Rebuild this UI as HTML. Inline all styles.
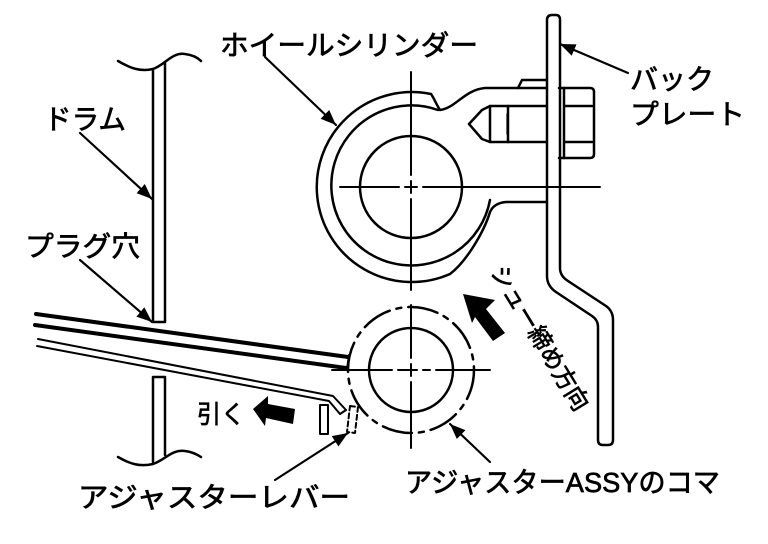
<!DOCTYPE html>
<html><head><meta charset="utf-8"><style>
html,body{margin:0;padding:0;background:#fff;}
svg{display:block;}
text{font-family:"Liberation Sans","Noto Sans CJK JP",sans-serif;fill:#000;stroke:#000;stroke-width:0.7;}
</style></head><body>
<svg width="768" height="544" viewBox="0 0 768 544" xmlns="http://www.w3.org/2000/svg">
<defs>
<marker id="ah" viewBox="0 0 10 10" refX="10" refY="5" markerWidth="7" markerHeight="7" markerUnits="strokeWidth" orient="auto">
<path d="M0,1 L10,5 L0,9 z" fill="#000"/>
</marker>
</defs>
<g fill="none" stroke="#000" stroke-width="2.5" stroke-linecap="round" stroke-linejoin="round">
<!-- Drum -->
<path d="M118,61 C130,68 140,72 153,69 C165,65 172,52 185,54 C193,55 198,58 201,61"/>
<path d="M153,69 L153,322 L165,322 L165,62"/>
<path d="M153,377 L165,377 L165,455 M153,377 L153,462"/>
<path d="M118,457 C130,464 140,467 153,464 C165,460 172,449 185,451 C193,452 198,455 201,457"/>
<!-- Wheel cylinder -->
<circle cx="411" cy="187" r="51"/>
<path d="M438,110 A80,80 0 1 0 490,200"/>
<path d="M546,88 L485,88 C464,90 456,108 440,110 C436,104 434,98 431,94 A95,95 0 1 0 450,274 C466,262 484,232 490,212 Q494,203 506,202 L546,202"/>
<path d="M518,88 L522,80 L546,80"/>
<!-- bolt -->
<path d="M546,106 L490,106 L482,110 L469,124 L482,139 L490,142 L546,142"/>
<path d="M490,106 L490,142 M508,106 L508,142"/>
<path d="M507,114 L507,134" stroke-width="1.2"/>
<!-- nut -->
<path d="M559,88 L590,88 Q594,88 594,92 L594,154 Q594,158 590,158 L559,158"/>
<path d="M564,88 L564,158 M564,106 L592,106 M564,142 L592,142"/>
<!-- back plate -->
<path d="M547,20 Q547,15 552,15 L556,15 Q560,15 560,20 L560,268 Q560,276 568,281 L606,306 Q613,311 613,320 L613,440 Q613,445 608,445 L603,445 Q598,445 598,440 L598,327 Q598,320 592,316 L556,292 Q547,286 547,276 Z"/>
<!-- adjuster -->
<circle cx="411" cy="370" r="42"/>
<circle cx="411" cy="370" r="63" stroke-dasharray="30 7 5 7"/>
<!-- center lines -->
<g stroke-width="2">
<path d="M411,72 L411,175 M411,181 L411,193 M411,199 L411,290"/>
<path d="M340,187 L399,187 M405,187 L417,187 M423,187 L600,187"/>
<path d="M411,305 L411,358 M411,364 L411,376 M411,382 L411,448"/>
<path d="M332,370 L392,370 M398,370 L405,370 M405,370 L417,370 M423,370 L430,370 M436,370 L490,370"/>
</g>
<!-- lever -->
<path d="M36,314 L348,357" stroke-width="4"/>
<path d="M35,325 L346,368" stroke-width="4"/>
<path d="M349,355 L347,369" stroke-width="2"/>
<path d="M38,339 L333,396 L346,410" stroke-width="2"/>
<path d="M37,346 L329,401 L340,414" stroke-width="2"/>
<path d="M340,414 L346,410" stroke-width="2"/>
<rect x="320" y="405" width="8" height="29" stroke-width="2"/>
<path d="M350,406 L358,407 L355,433 L347,432 Z" stroke-width="2" stroke-dasharray="5 3"/>
<!-- leaders -->
<g stroke-width="2.2" marker-end="url(#ah)">
<path d="M265,57 L336,125"/>
<path d="M628,73 L560,44"/>
<path d="M80,133 L152,199"/>
<path d="M80,260 L152,322"/>
<path d="M275,480 L348,433"/>
<path d="M490,462 L450,424"/>
</g>
</g>
<!-- filled arrows -->
<polygon points="463,294 495,300 486,309 505,333 493,341 475,317 472,323" fill="#000"/>
<polygon points="253,409 268,396 268,404 295,409 293,424 266,418 265,426" fill="#000"/>
<!-- labels -->
<g font-size="28">
<text x="220" y="55" textLength="258" lengthAdjust="spacingAndGlyphs">ホイールシリンダー</text>
<text x="630" y="89" textLength="84" lengthAdjust="spacingAndGlyphs">バック</text>
<text x="630" y="124" textLength="115" lengthAdjust="spacingAndGlyphs">プレート</text>
<text x="44" y="129" textLength="82" lengthAdjust="spacingAndGlyphs">ドラム</text>
<text x="25" y="256" textLength="115" lengthAdjust="spacingAndGlyphs">プラグ穴</text>
<text x="78" y="507" textLength="272" lengthAdjust="spacingAndGlyphs">アジャスターレバー</text>
<text x="405" y="492" textLength="315" lengthAdjust="spacingAndGlyphs">アジャスターASSYのコマ</text>
<text x="197" y="423" font-size="25" textLength="48" lengthAdjust="spacingAndGlyphs">引く</text>
</g>
<text x="0" y="0" font-size="24" textLength="165" lengthAdjust="spacingAndGlyphs" transform="translate(490,272) rotate(58.6)">シュー締め方向</text>
</svg>
</body></html>
